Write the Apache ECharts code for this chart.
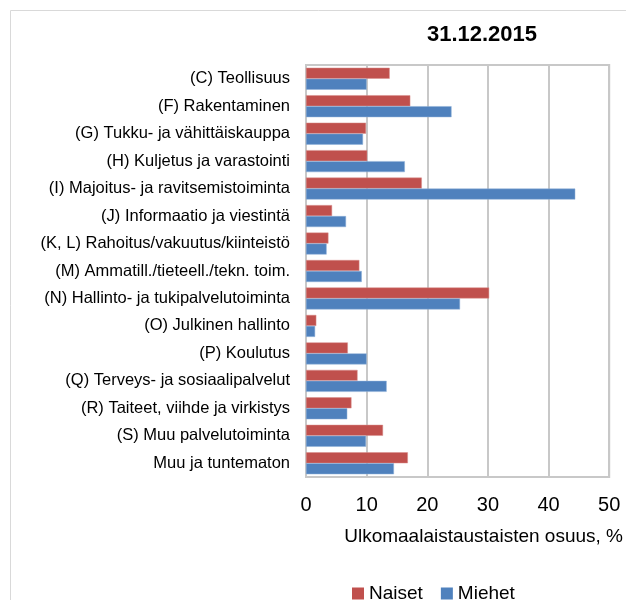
<!DOCTYPE html>
<html>
<head>
<meta charset="utf-8">
<script src="https://cdn.jsdelivr.net/npm/echarts@6/dist/echarts.min.js"></script>
<style>html,body{margin:0;padding:0;background:#fff}#c{width:626px;height:600px}</style>
</head>
<body>
<div id="c"></div>
<script>
const categories = [
  "(C) Teollisuus",
  "(F) Rakentaminen",
  "(G) Tukku- ja vähittäiskauppa",
  "(H) Kuljetus ja varastointi",
  "(I) Majoitus- ja ravitsemistoiminta",
  "(J) Informaatio ja viestintä",
  "(K, L) Rahoitus/vakuutus/kiinteistö",
  "(M) Ammatill./tieteell./tekn. toim.",
  "(N) Hallinto- ja tukipalvelutoiminta",
  "(O) Julkinen hallinto",
  "(P) Koulutus",
  "(Q) Terveys- ja sosiaalipalvelut",
  "(R) Taiteet, viihde ja virkistys",
  "(S) Muu palvelutoiminta",
  "Muu ja tuntematon"
];
const naiset = [13.8, 17.2, 9.9, 10.1, 19.1, 4.3, 3.7, 8.8, 30.2, 1.7, 6.9, 8.5, 7.5, 12.7, 16.8];
const miehet = [10.0, 24.0, 9.4, 16.3, 44.4, 6.6, 3.4, 9.2, 25.4, 1.5, 10.0, 13.3, 6.8, 9.9, 14.5];
const xTicks = [0, 10, 20, 30, 40, 50];

const font = "'Liberation Sans', Arial, sans-serif";
const chart = echarts.init(document.getElementById('c'));
chart.setOption({
  animation: false,
  textStyle: { fontFamily: font },
  title: {
    text: '31.12.2015',
    left: 477, top: 19, textAlign: 'center',
    textStyle: { fontSize: 22, fontWeight: 'bold', color: '#000', fontFamily: font }
  },
  graphic: [{
    type: 'rect', shape: { x: 10.5, y: 10.5, width: 700, height: 700 },
    style: { fill: 'none', stroke: '#d9d9d9', lineWidth: 1 }, silent: true
  }],
  legend: {
    data: ['Naiset', 'Miehet'],
    left: 347, top: 579,
    itemWidth: 12, itemHeight: 12, itemGap: 18,
    icon: 'rect',
    itemStyle: { borderWidth: 0 },
    textStyle: { fontSize: 19, color: '#000', fontFamily: font }
  },
  grid: { left: 306, right: 15, top: 65, bottom: 123, containLabel: false,
    show: true, borderColor: '#c8c8c8', borderWidth: 2 },
  xAxis: {
    type: 'value', min: 0, max: 50, interval: 10,
    axisLine: { show: false },
    axisTick: { show: false },
    splitLine: { lineStyle: { color: '#c8c8c8', width: 2 } },
    axisLabel: { fontSize: 20, color: '#000', margin: 18, fontFamily: font,
      formatter: v => xTicks.includes(v) ? String(v) : '' },
    name: 'Ulkomaalaistaustaisten osuus, %',
    nameLocation: 'middle', nameGap: 50,
    nameTextStyle: { fontSize: 19, color: '#000', fontFamily: font, padding: [0, 0, 0, 52] }
  },
  yAxis: {
    type: 'category', data: categories, inverse: true,
    axisLine: { show: true, lineStyle: { color: '#c8c8c8', width: 2 } },
    axisTick: { show: false },
    axisLabel: { fontSize: 16.5, color: '#000', margin: 16, fontFamily: font }
  },
  series: [
    { name: 'Naiset', type: 'bar', data: naiset, barGap: '0%', barCategoryGap: '20%',
      itemStyle: { color: '#C0504D', borderColor: '#d98f8d', borderWidth: 0.5 } },
    { name: 'Miehet', type: 'bar', data: miehet, barGap: '0%', barCategoryGap: '20%',
      itemStyle: { color: '#4F81BD', borderColor: '#8fb0d9', borderWidth: 0.5 } }
  ]
});
</script>
</body>
</html>
